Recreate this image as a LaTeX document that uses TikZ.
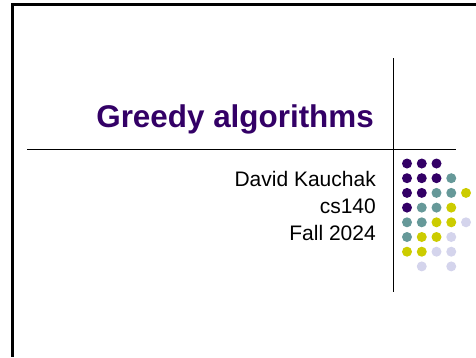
\documentclass[tikz,border=0pt]{standalone}
\usepackage{fontspec}
\setmainfont{Liberation Sans}
\usepackage{tikz}
\usetikzlibrary{positioning}

\definecolor{pu}{RGB}{51,0,102}
\definecolor{te}{RGB}{102,153,153}
\definecolor{ye}{RGB}{204,204,0}
\definecolor{la}{RGB}{212,212,236}

\begin{document}
\begin{tikzpicture}[x=1pt,y=-1pt,
    title/.style={anchor=base east, inner sep=0pt, text=pu, font=\fontsize{31.4}{36}\selectfont\bfseries},
    byline/.style={anchor=base east, inner sep=0pt, font=\fontsize{21}{25}\selectfont},
    rule/.style={line width=0.9pt},
    dot/.style={circle, fill=#1, minimum size=10pt, inner sep=0pt}]
    \useasboundingbox (0,0) rectangle (476,357);
    % slide frame
    \coordinate (tr) at (476,4);
    \coordinate (tl) at (12,4);
    \coordinate (bl) at (12,357);
    \draw[line width=3pt] (tr) -- (tl) -- (bl);
    % dividing lines
    \coordinate (v_top) at (393,58);
    \coordinate (v_bot) at (393,292);
    \coordinate (h_left) at (27,149.3);
    \coordinate (h_right) at (456,149.3);
    \draw[rule] (v_top) -- (v_bot);
    \draw[rule] (h_left) -- (h_right);
    % title and byline
    \node[title] (ttl) at (374,127.3) {Greedy algorithms};
    \node[byline] (auth) at (376,186) {David Kauchak};
    \node[byline] (crs) at ([yshift=-27pt]auth.base east) {cs140};
    \node[byline] (term) at ([yshift=-27pt]crs.base east) {Fall 2024};
    % dot pattern
    \foreach \cols [count=\r] in {{pu,pu,pu},{pu,pu,pu,te},{pu,pu,te,te,ye},
        {pu,te,te,ye},{te,te,ye,ye,la},{te,ye,ye,la},{ye,ye,la,la}}
        \foreach \col [count=\k] in \cols
            \node[dot=\col] (d-\r-\k) at ({407+14.75*(\k-1)},{163.5+14.7*(\r-1)}) {};
    \node[dot=la] (d-8-2) at ({407+14.75},{163.5+14.7*7}) {};
    \node[dot=la] (d-8-4) at ({407+14.75*3},{163.5+14.7*7}) {};
\end{tikzpicture}
\end{document}
